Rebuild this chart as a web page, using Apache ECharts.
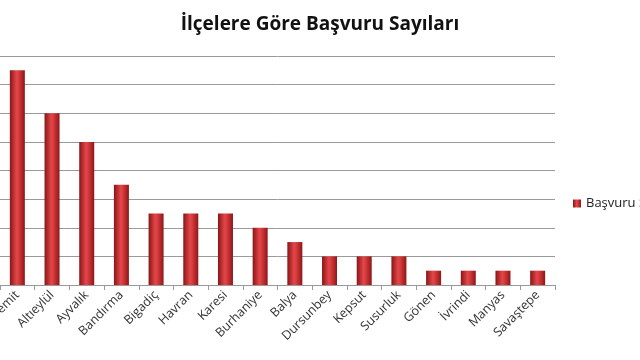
<!DOCTYPE html>
<html><head><meta charset="utf-8">
<script src="https://cdn.jsdelivr.net/npm/echarts@6/dist/echarts.min.js"></script>
<style>html,body{margin:0;padding:0;background:#fff}#c{width:640px;height:360px}</style>
</head><body><div id="c"></div>
<script>
const titleText = 'İlçelere Göre Başvuru Sayıları';
const seriesName = 'Başvuru Sayısı';
const categories = ['Edremit','Altıeylül','Ayvalık','Bandırma','Bigadiç','Havran','Karesi','Burhaniye','Balya','Dursunbey','Kepsut','Susurluk','Gönen','İvrindi','Manyas','Savaştepe'];
const values = [15,12,10,7,5,5,5,4,3,2,2,2,1,1,1,1];

const chart = echarts.init(document.getElementById('c'));
const barGrad = new echarts.graphic.LinearGradient(0,0,1,0,[
  {offset:0,color:'#8a1416'},{offset:0.45,color:'#e2474a'},{offset:0.6,color:'#d63a3c'},{offset:1,color:'#8e1618'}]);
chart.setOption({
  animation:false,
  backgroundColor:'#fff',
  title:{text:titleText,left:'center',top:10,textStyle:{fontFamily:'Open Sans',fontWeight:'bold',fontSize:19,color:'#111'}},
  legend:{data:[{name:seriesName,icon:'rect'}],left:568,top:192,itemWidth:8,itemHeight:8,itemGap:5,
    textStyle:{fontFamily:'Open Sans',fontSize:13,color:'#222'}},
  grid:{left:0,right:85,top:56,bottom:75,containLabel:false,outerBoundsMode:'none'},
  xAxis:{type:'category',data:categories,
    axisLine:{lineStyle:{color:'#999'}},
    axisTick:{show:true,length:5,lineStyle:{color:'#999'}},
    axisLabel:{rotate:45,interval:0,fontFamily:'Open Sans',fontSize:12.5,color:'#333',margin:8}},
  yAxis:{type:'value',min:0,max:16,interval:2,
    axisLabel:{show:false},axisLine:{show:false},axisTick:{show:false},
    splitLine:{lineStyle:{color:'#9a9a9a',width:1}}},
  series:[{name:seriesName,type:'bar',data:values,barWidth:15,
    itemStyle:{color:barGrad}}]
});
</script></body></html>
